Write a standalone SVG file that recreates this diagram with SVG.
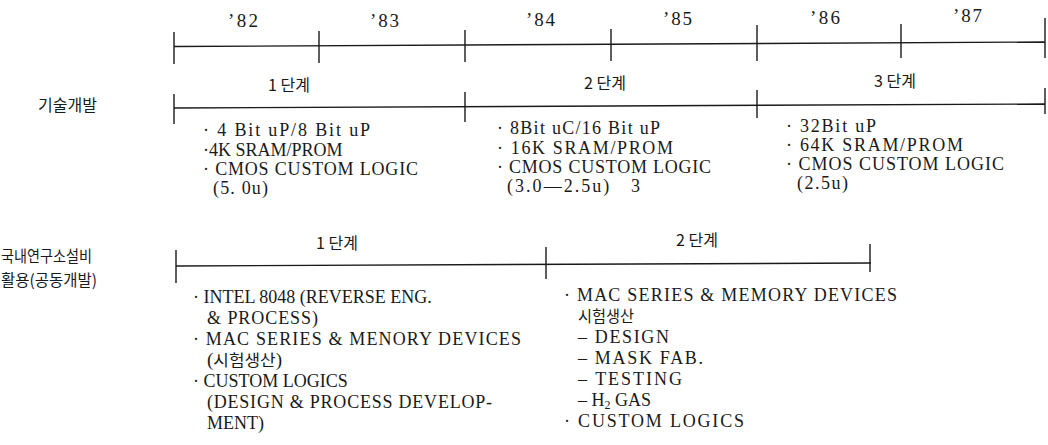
<svg xmlns="http://www.w3.org/2000/svg" width="1048" height="445" viewBox="0 0 1048 445">
<style>
.t{font-family:"Liberation Serif","Noto Serif CJK KR","Noto Sans CJK KR",serif;font-size:18px;fill:#1a1a1a}
.y{font-family:"Liberation Serif",serif;font-size:19px;fill:#1a1a1a}
.k{font-family:"Noto Sans CJK KR","Liberation Sans",sans-serif;font-size:16px;fill:#1a1a1a}
.ln{stroke:#1a1a1a;stroke-width:1.4;fill:none}
</style>
<rect width="1048" height="445" fill="#ffffff"/>
<g id="connectors">
<path class="ln" d="M174,46.5 L1045,42"/>
<path class="ln" d="M174,32 V64 M319,31 V63 M465,30 V62 M611,29 V61 M757,25 V61 M901,24 V58 M1045,18 V58"/>
<path class="ln" d="M174,108 L1045,104"/>
<path class="ln" d="M174,94 V124 M465,92 V122 M757,90 V118 M1045,88 V114"/>
<path class="ln" d="M176,266 L871,263"/>
<path class="ln" d="M176,250 V283 M546,247 V279 M870,244 V272"/>
</g>
<g id="years">
<text class="y" x="228" y="27" textLength="30" lengthAdjust="spacing">’82</text>
<text class="y" x="370" y="27" textLength="29" lengthAdjust="spacing">’83</text>
<text class="y" x="526" y="26" textLength="29" lengthAdjust="spacing">’84</text>
<text class="y" x="663" y="25" textLength="29" lengthAdjust="spacing">’85</text>
<text class="y" x="810" y="24" textLength="30" lengthAdjust="spacing">’86</text>
<text class="y" x="953" y="22" textLength="29" lengthAdjust="spacing">’87</text>
</g>
<g id="row-tech">
<text class="k" x="38" y="111">기술개발</text>
<text class="k" x="268" y="91">1 단계</text>
<text class="k" x="584" y="89">2 단계</text>
<text class="k" x="874" y="87">3 단계</text>
</g>
<g id="tech-stage1">
<text class="t" x="203" y="136" textLength="167" lengthAdjust="spacing">·&#160;4 Bit uP/8 Bit uP</text>
<text class="t" x="203" y="156">·4K SRAM/PROM</text>
<text class="t" x="203" y="175" textLength="215" lengthAdjust="spacing">·&#160;CMOS CUSTOM LOGIC</text>
<text class="t" x="213" y="194" textLength="55" lengthAdjust="spacing">(5. 0u)</text>
</g>
<g id="tech-stage2">
<text class="t" x="497" y="134" textLength="163" lengthAdjust="spacing">·&#160;8Bit uC/16 Bit uP</text>
<text class="t" x="497" y="154" textLength="176" lengthAdjust="spacing">·&#160;16K SRAM/PROM</text>
<text class="t" x="497" y="173" textLength="214" lengthAdjust="spacing">·&#160;CMOS CUSTOM LOGIC</text>
<text class="t" x="507" y="192" textLength="133" lengthAdjust="spacing">(3.0—2.5u)&#160;&#160; 3</text>
</g>
<g id="tech-stage3">
<text class="t" x="786" y="132" textLength="90" lengthAdjust="spacing">·&#160;32Bit uP</text>
<text class="t" x="786" y="151" textLength="177" lengthAdjust="spacing">·&#160;64K SRAM/PROM</text>
<text class="t" x="786" y="170" textLength="218" lengthAdjust="spacing">·&#160;CMOS CUSTOM LOGIC</text>
<text class="t" x="797" y="189" textLength="51" lengthAdjust="spacing">(2.5u)</text>
</g>
<g id="row-joint">
<text class="k" x="1" y="262" textLength="91" lengthAdjust="spacingAndGlyphs">국내연구소설비</text>
<text class="k" x="1" y="286" textLength="96" lengthAdjust="spacingAndGlyphs">활용(공동개발)</text>
<text class="k" x="316" y="249">1 단계</text>
<text class="k" x="676" y="246">2 단계</text>
</g>
<g id="joint-stage1">
<text class="t" x="193" y="303">·&#160;INTEL 8048 (REVERSE ENG.</text>
<text class="t" x="207" y="324" textLength="111" lengthAdjust="spacing">&amp; PROCESS)</text>
<text class="t" x="193" y="345" textLength="328" lengthAdjust="spacing">·&#160;MAC SERIES &amp; MENORY DEVICES</text>
<text class="t" x="207" y="366" textLength="75" lengthAdjust="spacingAndGlyphs">(<tspan class="k">시험생산</tspan>)</text>
<text class="t" x="193" y="387">·&#160;CUSTOM LOGICS</text>
<text class="t" x="207" y="408" textLength="285" lengthAdjust="spacing">(DESIGN &amp; PROCESS DEVELOP-</text>
<text class="t" x="207" y="429">MENT)</text>
</g>
<g id="joint-stage2">
<text class="t" x="564" y="301" textLength="333" lengthAdjust="spacing">·&#160;MAC SERIES &amp; MEMORY DEVICES</text>
<text class="k" x="578" y="322" textLength="56" lengthAdjust="spacingAndGlyphs">시험생산</text>
<text class="t" x="578" y="343" textLength="91" lengthAdjust="spacing">– DESIGN</text>
<text class="t" x="578" y="364" textLength="125" lengthAdjust="spacing">– MASK FAB.</text>
<text class="t" x="578" y="385" textLength="104" lengthAdjust="spacing">– TESTING</text>
<text class="t" x="578" y="406">– H<tspan font-size="12" dy="3">2</tspan><tspan dy="-3"> GAS</tspan></text>
<text class="t" x="564" y="427" textLength="180" lengthAdjust="spacing">·&#160;CUSTOM LOGICS</text>
</g>
</svg>
